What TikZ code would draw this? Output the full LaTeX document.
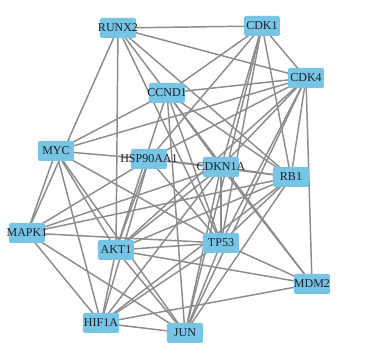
\documentclass[tikz,border=0pt]{standalone}
\usepackage{fontspec}
\setmainfont{Liberation Serif}
\usetikzlibrary{backgrounds}
\definecolor{genebl}{RGB}{118,197,229}
\definecolor{linkgr}{RGB}{140,140,142}
\definecolor{genetx}{RGB}{30,30,40}
\tikzset{
  gene/.style={fill=genebl, rounded corners=1.5pt, minimum width=27pt, minimum height=15pt,
               inner sep=0pt, text=genetx, font=\fontsize{9}{10}\selectfont},
  link/.style={draw=linkgr, line width=1.1pt}
}
\newcommand{\gname}[1]{\makebox[0pt]{#1}}

\begin{document}
\begin{tikzpicture}[x=0.75pt, y=-0.75pt]
  \useasboundingbox (0,0) rectangle (369,353);
  % genes (pixel positions of the box centres)
  \foreach \n/\x/\y/\t in {runx/118/28/RUNX2, cdk1/262/26/CDK1, cdk4/306/78/CDK4,
      ccnd/167/93/CCND1, myc/56/151/MYC, hsp/149/159/HSP90AA1, cdkn/221/167/CDKN1A,
      rb/291/177/RB1, mapk/27/233/MAPK1, akt/116/250/AKT1, tp/221/243/TP53,
      mdm/312/284/MDM2, hif/101/323/HIF1A, jun/185/333/JUN}
    \node[gene] (\n) at (\x,\y) {\gname{\t}};
  % interactions
  \begin{pgfonlayer}{background}
    \foreach \a/\b in {runx/cdk1, runx/cdk4, runx/mapk, runx/akt, runx/ccnd,
        runx/rb, runx/tp, cdk1/cdk4, cdk1/ccnd, cdk1/hsp, cdk1/cdkn, cdk1/tp, cdk1/jun,
        cdk1/rb, cdk4/ccnd, cdk4/myc, cdk4/hsp, cdk4/cdkn, cdk4/akt, cdk4/tp, cdk4/rb,
        cdk4/mdm, cdk4/jun, ccnd/myc, ccnd/akt, ccnd/jun, ccnd/tp, ccnd/cdkn, ccnd/rb,
        ccnd/mdm, myc/hsp, myc/mapk, myc/hif, myc/akt, myc/jun, myc/tp, hsp/cdkn,
        hsp/mapk, hsp/akt, hsp/hif, hsp/tp, hsp/rb, cdkn/rb, cdkn/tp, cdkn/jun, cdkn/akt,
        cdkn/hif, cdkn/mdm, rb/mapk, rb/akt, rb/jun, rb/hif, rb/tp, mapk/tp, mapk/hif,
        mapk/jun, mapk/cdkn, akt/tp, akt/mdm, akt/hif, akt/jun, tp/hif, tp/jun, tp/mdm,
        hif/mdm, hif/jun}
      \draw[link] (\a.center) -- (\b.center);
  \end{pgfonlayer}
\end{tikzpicture}
\end{document}
